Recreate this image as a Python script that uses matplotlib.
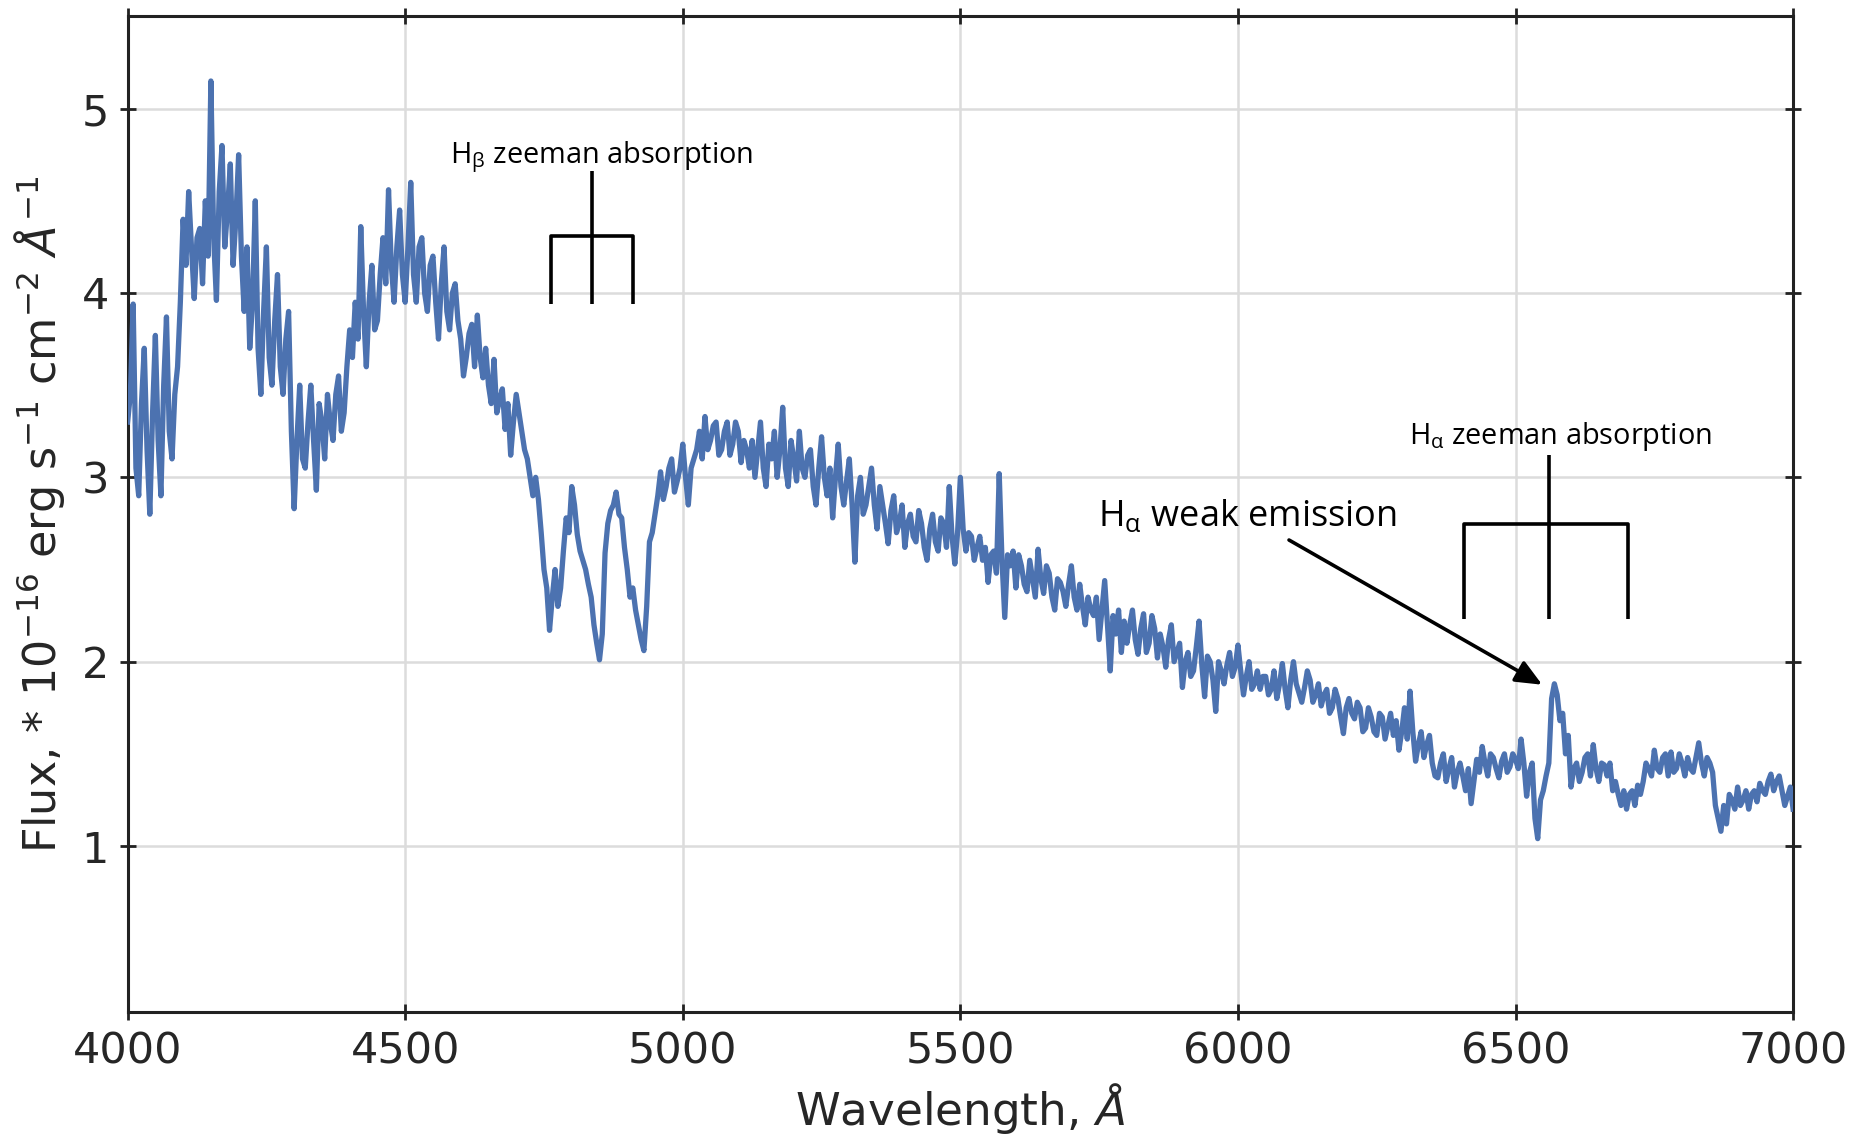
import matplotlib
matplotlib.use('Agg')
import matplotlib.pyplot as plt
import numpy as np

# spectrum: values at 4000, 4010, ... 7000 A
wl_start, wl_step = 4000, 10
flux = [
    3.30, 3.94, 2.90, 3.70, 2.80, 3.77, 2.90, 3.87, 3.10, 3.60,   # 4000
    4.40, 4.55, 3.97, 4.35, 4.50, 5.15, 3.96, 4.80, 4.45, 4.15,   # 4100
    4.75, 3.90, 3.70, 4.50, 3.45, 4.25, 3.50, 4.10, 3.45, 3.90,   # 4200
    2.83, 3.50, 3.05, 3.50, 2.93, 3.30, 3.45, 3.20, 3.55, 3.35,   # 4300
    3.80, 3.95, 4.36, 3.60, 4.15, 3.85, 4.30, 4.56, 3.95, 4.45,   # 4400
    3.95, 4.60, 3.95, 4.30, 3.90, 4.20, 3.75, 4.25, 3.80, 4.05,   # 4500
    3.75, 3.65, 3.83, 3.88, 3.54, 3.50, 3.64, 3.42, 3.26, 3.12,   # 4600
    3.45, 3.25, 3.10, 2.90, 2.88, 2.50, 2.17, 2.50, 2.40, 2.78,   # 4700
    2.95, 2.69, 2.55, 2.42, 2.20, 2.01, 2.59, 2.82, 2.92, 2.78,   # 4800
    2.50, 2.40, 2.20, 2.06, 2.65, 2.80, 3.03, 2.95, 3.10, 2.98,   # 4900
    3.18, 2.85, 3.10, 3.25, 3.33, 3.20, 3.30, 3.15, 3.30, 3.18,   # 5000
    3.25, 3.20, 3.05, 3.00, 3.30, 2.95, 3.10, 3.00, 3.38, 2.95,   # 5100
    3.10, 3.25, 3.00, 3.15, 2.85, 3.22, 2.90, 2.78, 3.18, 2.85,   # 5200
    3.10, 2.54, 3.00, 2.85, 3.05, 2.72, 2.85, 2.64, 2.90, 2.75,   # 5300
    2.62, 2.80, 2.65, 2.75, 2.55, 2.80, 2.60, 2.75, 2.95, 2.53,   # 5400
    3.00, 2.60, 2.68, 2.62, 2.55, 2.43, 2.60, 3.02, 2.24, 2.52,   # 5500
    2.40, 2.52, 2.38, 2.45, 2.61, 2.37, 2.48, 2.28, 2.43, 2.30,   # 5600
    2.52, 2.28, 2.30, 2.35, 2.25, 2.12, 2.44, 1.95, 2.15, 2.05,   # 5700
    2.10, 2.28, 2.04, 2.26, 2.10, 2.18, 2.15, 1.97, 2.20, 2.05,   # 5800
    1.86, 2.05, 1.95, 2.22, 1.81, 2.00, 1.73, 1.95, 1.98, 1.92,   # 5900
    2.09, 1.82, 2.00, 1.88, 1.85, 1.92, 1.85, 1.80, 1.99, 1.75,   # 6000
    2.00, 1.83, 1.86, 1.90, 1.82, 1.76, 1.85, 1.75, 1.80, 1.61,   # 6100
    1.80, 1.69, 1.75, 1.64, 1.70, 1.60, 1.70, 1.65, 1.60, 1.52,   # 6200
    1.75, 1.84, 1.46, 1.62, 1.55, 1.45, 1.37, 1.50, 1.42, 1.32,   # 6300
    1.45, 1.30, 1.23, 1.47, 1.54, 1.38, 1.48, 1.37, 1.50, 1.43,   # 6400
    1.47, 1.58, 1.27, 1.45, 1.04, 1.30, 1.45, 1.88, 1.68, 1.50,   # 6500
    1.32, 1.45, 1.40, 1.50, 1.55, 1.35, 1.44, 1.45, 1.35, 1.22,   # 6600
    1.20, 1.30, 1.33, 1.35, 1.42, 1.52, 1.40, 1.50, 1.51, 1.42,   # 6700
    1.45, 1.48, 1.40, 1.56, 1.38, 1.45, 1.22, 1.08, 1.12, 1.25,   # 6800
    1.32, 1.25, 1.20, 1.30, 1.34, 1.28, 1.39, 1.35, 1.30, 1.27,   # 6900
    1.20,                                                         # 7000
]
# values in between: 4005, 4015, ... 6995 A
flux_half = [
    3.45, 3.05, 3.40, 3.15, 3.35, 3.20, 3.50, 3.25, 3.45, 3.95,   # 4000
    4.15, 4.25, 4.30, 4.05, 4.20, 4.30, 4.55, 4.25, 4.70, 4.40,   # 4100
    4.20, 4.25, 3.95, 3.70, 3.90, 3.65, 3.85, 3.60, 3.75, 3.25,   # 4200
    3.20, 3.10, 3.30, 3.20, 3.40, 3.10, 3.30, 3.45, 3.25, 3.60,   # 4300
    3.65, 3.75, 3.90, 3.95, 3.80, 4.10, 4.05, 4.15, 4.25, 4.10,   # 4400
    4.25, 4.10, 4.25, 4.00, 4.15, 3.95, 4.05, 3.90, 4.00, 3.85,   # 4500
    3.55, 3.78, 3.60, 3.65, 3.70, 3.40, 3.35, 3.48, 3.40, 3.30,   # 4600
    3.35, 3.15, 3.00, 3.00, 2.70, 2.40, 2.35, 2.30, 2.60, 2.70,   # 4700
    2.85, 2.60, 2.50, 2.35, 2.10, 2.15, 2.75, 2.85, 2.80, 2.62,   # 4800
    2.35, 2.28, 2.12, 2.30, 2.70, 2.90, 2.88, 3.05, 2.92, 3.05,   # 4900
    3.00, 3.05, 3.15, 3.10, 3.15, 3.28, 3.12, 3.25, 3.12, 3.30,   # 5000
    3.08, 3.15, 3.20, 3.15, 3.05, 3.18, 3.25, 3.15, 3.05, 3.20,   # 5100
    2.98, 3.05, 3.12, 2.95, 3.05, 3.00, 3.05, 3.00, 2.95, 2.98,   # 5200
    2.85, 2.90, 2.80, 2.95, 2.85, 2.95, 2.75, 2.82, 2.70, 2.85,   # 5300
    2.75, 2.68, 2.82, 2.62, 2.72, 2.65, 2.78, 2.62, 2.68, 2.70,   # 5400
    2.72, 2.70, 2.55, 2.68, 2.62, 2.58, 2.48, 2.55, 2.58, 2.60,   # 5500
    2.58, 2.42, 2.55, 2.35, 2.45, 2.52, 2.35, 2.45, 2.38, 2.42,   # 5600
    2.35, 2.42, 2.20, 2.28, 2.35, 2.28, 2.20, 2.25, 2.28, 2.22,   # 5700
    2.20, 2.12, 2.18, 2.05, 2.25, 2.02, 2.08, 2.12, 2.00, 2.10,   # 5800
    2.00, 1.92, 2.08, 1.98, 2.03, 1.90, 2.00, 1.88, 2.05, 1.97,   # 5900
    1.95, 1.92, 1.85, 1.95, 1.92, 1.82, 1.95, 1.88, 1.85, 1.90,   # 6000
    1.88, 1.78, 1.95, 1.78, 1.88, 1.82, 1.72, 1.85, 1.70, 1.75,   # 6100
    1.72, 1.78, 1.62, 1.75, 1.62, 1.72, 1.58, 1.72, 1.68, 1.62,   # 6200
    1.58, 1.62, 1.55, 1.48, 1.60, 1.38, 1.45, 1.35, 1.48, 1.40,   # 6300
    1.38, 1.42, 1.35, 1.40, 1.45, 1.50, 1.42, 1.46, 1.40, 1.50,   # 6400
    1.42, 1.45, 1.40, 1.15, 1.25, 1.38, 1.80, 1.82, 1.72, 1.60,   # 6500
    1.42, 1.35, 1.48, 1.38, 1.42, 1.45, 1.38, 1.30, 1.28, 1.30,   # 6600
    1.28, 1.22, 1.28, 1.45, 1.38, 1.42, 1.48, 1.38, 1.40, 1.50,   # 6700
    1.38, 1.42, 1.48, 1.45, 1.48, 1.40, 1.15, 1.22, 1.28, 1.20,   # 6800
    1.22, 1.30, 1.28, 1.24, 1.30, 1.35, 1.30, 1.38, 1.22, 1.32,   # 6900
]

x_ticks = [4000, 4500, 5000, 5500, 6000, 6500, 7000]
y_ticks = [1, 2, 3, 4, 5]

# zeeman triplets: (left, centre, right) wavelengths
hb_triplet = (4762, 4836, 4910)
ha_triplet = (6408, 6560, 6703)

line_color = '#4C72B0'
text_color = '#262626'

# merge both samplings into one series on a 5 A grid
spec = np.empty(len(flux) + len(flux_half))
spec[0::2] = flux
spec[1::2] = flux_half
wavelength = wl_start + wl_step / 2 * np.arange(len(spec))


def draw_triplet(ax, lines, top, bar, bottom):
    left, centre, right = lines
    kw = dict(color='k', lw=1.3, solid_capstyle='butt', zorder=4)
    ax.plot([centre, centre], [top, bottom], **kw)
    ax.plot([left, left, right, right], [bottom, bar, bar, bottom], **kw)


fig = plt.figure(figsize=(9.26, 5.685), dpi=200)
ax = fig.add_axes([0.0689, 0.110, 0.8993, 0.8755])

ax.plot(wavelength, spec, color=line_color, lw=1.9, zorder=3)

ax.set_xlim(4000, 7000)
ax.set_ylim(0.1, 5.5)
ax.set_xticks(x_ticks)
ax.set_yticks(y_ticks)
ax.grid(True, color='#dcdcdc', lw=0.9)
ax.set_axisbelow(True)
for s in ax.spines.values():
    s.set_color('#222222')
    s.set_linewidth(1.1)
ax.tick_params(direction='inout', length=5.5, width=1.0, color='#222222',
               top=True, right=True, labelsize=15.5, labelcolor=text_color,
               pad=4)

ax.set_xlabel(r'Wavelength, $\mathit{Å}$', fontsize=16.3, color=text_color,
              labelpad=3)
ax.set_ylabel(r'Flux, $*$ $10^{-16}$ erg s$^{-1}$ cm$^{-2}$ $\mathit{Å}^{-1}$',
              fontsize=16.0, color=text_color, labelpad=5)

# annotations
draw_triplet(ax, hb_triplet, 4.66, 4.31, 3.94)
draw_triplet(ax, ha_triplet, 3.12, 2.745, 2.23)

ax.text(4853, 4.705, r'H$_\mathregular{β}$ zeeman absorption',
        family='Open Sans', fontsize=10.4, ha='center', va='baseline')
ax.text(6580, 3.18, r'H$_\mathregular{α}$ zeeman absorption',
        family='Open Sans', fontsize=10.4, ha='center', va='baseline')
ax.text(5748, 2.736, r'H$_\mathregular{α}$ weak emission',
        family='Open Sans', fontsize=13.0, ha='left', va='baseline')
ax.annotate('', xy=(6548, 1.875), xytext=(6092, 2.66),
            arrowprops=dict(arrowstyle='-|>,head_length=0.8,head_width=0.35',
                            color='k', lw=1.3, shrinkA=0, shrinkB=0))

fig.savefig('out.png', dpi=200)
